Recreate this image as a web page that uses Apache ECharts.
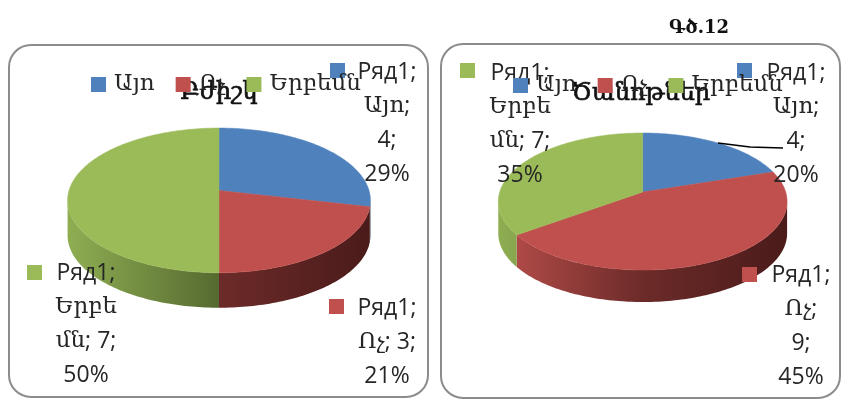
<!DOCTYPE html>
<html><head><meta charset="utf-8">
<style>html,body{margin:0;padding:0;background:#fff}#c{width:841px;height:400px}</style>
<script src="https://cdn.jsdelivr.net/npm/echarts@6/dist/echarts.min.js"></script>
</head><body><div id="c"></div>
<script>
const categories = ['Այո', 'Ոչ', 'Երբեմն'];
const seriesName = 'Ряд1';
const valuesLeft = [4, 3, 7];
const valuesRight = [4, 9, 7];
const titleLeft = 'Բժիշկ';
const titleRight = 'Ծանոթներ';
const caption = 'Գծ.12';
const topColors = ['#4f81bd', '#c0504d', '#9bbb59'];
const sideStops = [['#4f81bd', '#2f4d72', '#1f3350'], ['#b84e4b', '#6c2b29', '#4a1b1a'], ['#8fae52', '#566a30', '#33401b']];

const armenian = '"DejaVu Serif", serif';
const latin = '"Open Sans", "Liberation Sans", sans-serif';
const lineGap = 34;

const pies = [
  { values: valuesLeft, cx: 219, cy: 190.5, a: 71, b: 150, k: -0.137, depth: 35,
    left: 67, right: 371,
    labels: [
      { breaks: [seriesName + ';', categories[0] + ';', '{v};', '{p}'], x: 387, y: 55, keyX: 330, keyY: 63 },
      { breaks: [seriesName + ';', categories[1] + '; {v};', '{p}'], x: 387, y: 291, keyX: 329, keyY: 299 },
      { breaks: [seriesName + ';', 'Երբե', 'մն; {v};', '{p}'], x: 86, y: 256, keyX: 27, keyY: 265 }
    ] },
  { values: valuesRight, cx: 642.7, cy: 192, a: 67.2, b: 143, k: -0.139, depth: 32,
    left: 498, right: 787,
    labels: [
      { breaks: [seriesName + ';', categories[0] + ';', '{v};', '{p}'], x: 796, y: 56, keyX: 737, keyY: 63 },
      { breaks: [seriesName + ';', categories[1] + ';', '{v};', '{p}'], x: 801, y: 258, keyX: 742, keyY: 267 },
      { breaks: [seriesName + ';', 'Երբե', 'մն; {v};', '{p}'], x: 520, y: 56, keyX: 460, keyY: 63 }
    ] }
];

function project(p, theta) {
  const u = Math.sin(theta), v = -Math.cos(theta), d = 1 + p.k * v;
  return [p.cx + p.b * u / d, p.cy + p.a * v / d];
}
function arcPoints(p, a0, a1) {
  const n = Math.max(2, Math.ceil((a1 - a0) / 0.02)), pts = [];
  for (let i = 0; i <= n; i++) pts.push(project(p, a0 + (a1 - a0) * i / n));
  return pts;
}
function sideGradient(p, cat) {
  return new echarts.graphic.LinearGradient(p.left, 0, p.right, 0, [
    { offset: 0, color: sideStops[cat][0] },
    { offset: 0.5, color: sideStops[cat][1] },
    { offset: 1, color: sideStops[cat][2] }
  ], true);
}
function richText(text) {
  return text.split('\n').map(line =>
    line.split(/([\u0530-\u058F]+)/).filter(Boolean).map(part =>
      (/[\u0530-\u058F]/.test(part) ? '{a|' : '{l|') + part + '}').join('')
  ).join('\n');
}
function renderSlice(pieIndex, cat) {
  return function (params, api) {
    const p = pies[pieIndex];
    const a0 = api.value(0) * Math.PI * 2, a1 = api.value(1) * Math.PI * 2;
    const pts = arcPoints(p, a0, a1);
    const children = [];
    // the wall runs along the rim between the two silhouette points
    const sil = Math.acos(p.k);
    const from = Math.max(a0, sil), to = Math.min(a1, Math.PI * 2 - sil);
    if (to > from) {
      const rim = arcPoints(p, from, to);
      const wall = rim.concat(rim.slice().reverse().map(q => [q[0], q[1] + p.depth]));
      children.push({ type: 'polygon', shape: { points: wall },
        style: { fill: sideGradient(p, cat) }, z2: 1 });
    }
    children.push({ type: 'polygon', shape: { points: [[p.cx, p.cy]].concat(pts) },
      style: { fill: topColors[cat], stroke: topColors[cat], lineWidth: 0.5 }, z2: 2 });
    const total = p.values.reduce((s, v) => s + v, 0);
    const value = p.values[cat];
    const lab = p.labels[cat];
    const text = lab.breaks.join('\n')
      .replace('{v}', value).replace('{p}', Math.round(value / total * 100) + '%');
    children.push({ type: 'rect', shape: { x: lab.keyX, y: lab.keyY, width: 15, height: 15 },
      style: { fill: topColors[cat] }, z2: 5 });
    children.push({ type: 'text', x: lab.x, y: lab.y, z2: 6,
      style: { text: richText(text), align: 'center', verticalAlign: 'top',
        rich: {
          a: { fontFamily: armenian, fontSize: 23, fill: '#262626', lineHeight: lineGap },
          l: { fontFamily: latin, fontSize: 23, fill: '#262626', lineHeight: lineGap }
        } } });
    return { type: 'group', children: children };
  };
}

const series = [];
pies.forEach((p, pi) => {
  const total = p.values.reduce((s, v) => s + v, 0);
  let acc = 0;
  p.values.forEach((v, cat) => {
    series.push({
      type: 'custom', name: categories[cat], coordinateSystem: 'none',
      itemStyle: { color: topColors[cat] }, silent: true, animation: false,
      renderItem: renderSlice(pi, cat),
      data: [[acc / total, (acc + v) / total]]
    });
    acc += v;
  });
});

const legendText = { fontFamily: armenian, fontSize: 23, color: '#262626', padding: [0, 0, 0, 3] };
const titleStyle = { fontFamily: armenian, fontSize: 24, fontWeight: 'normal', color: '#111', textBorderColor: '#111', textBorderWidth: 0.7 };
const chart = echarts.init(document.getElementById('c'), null, { renderer: 'canvas' });
chart.setOption({
  animation: false,
  backgroundColor: '#fff',
  title: [
    { text: titleLeft, left: 214, top: 76, textAlign: 'center', textStyle: titleStyle, z: 6 },
    { text: titleRight, left: 636, top: 77, textAlign: 'center', textStyle: titleStyle, z: 6 },
    { text: caption, left: 694, top: 14, textAlign: 'center', textStyle: { fontFamily: armenian, fontSize: 18, fontWeight: 'bold', color: '#111' } }
  ],
  legend: [
    { data: categories, left: 86, top: 68, itemWidth: 15, itemHeight: 15, itemGap: 21, icon: 'rect', textStyle: legendText, selectedMode: false, z: 7 },
    { data: categories, left: 508, top: 69, itemWidth: 15, itemHeight: 15, itemGap: 21, icon: 'rect', textStyle: legendText, selectedMode: false, z: 7 }
  ],
  graphic: [
    { type: 'rect', shape: { x: 9, y: 45, width: 419, height: 352, r: 22 }, style: { fill: 'none', stroke: '#8c8c8c', lineWidth: 2 }, z: -1 },
    { type: 'rect', shape: { x: 441, y: 44, width: 399, height: 354, r: 22 }, style: { fill: 'none', stroke: '#8c8c8c', lineWidth: 2 }, z: -1 },
    { type: 'polyline', shape: { points: [[718, 143], [750, 147], [783, 148]] }, style: { fill: 'none', stroke: '#000', lineWidth: 1.5 }, z: 20 }
  ],
  series: series
});
</script></body></html>
